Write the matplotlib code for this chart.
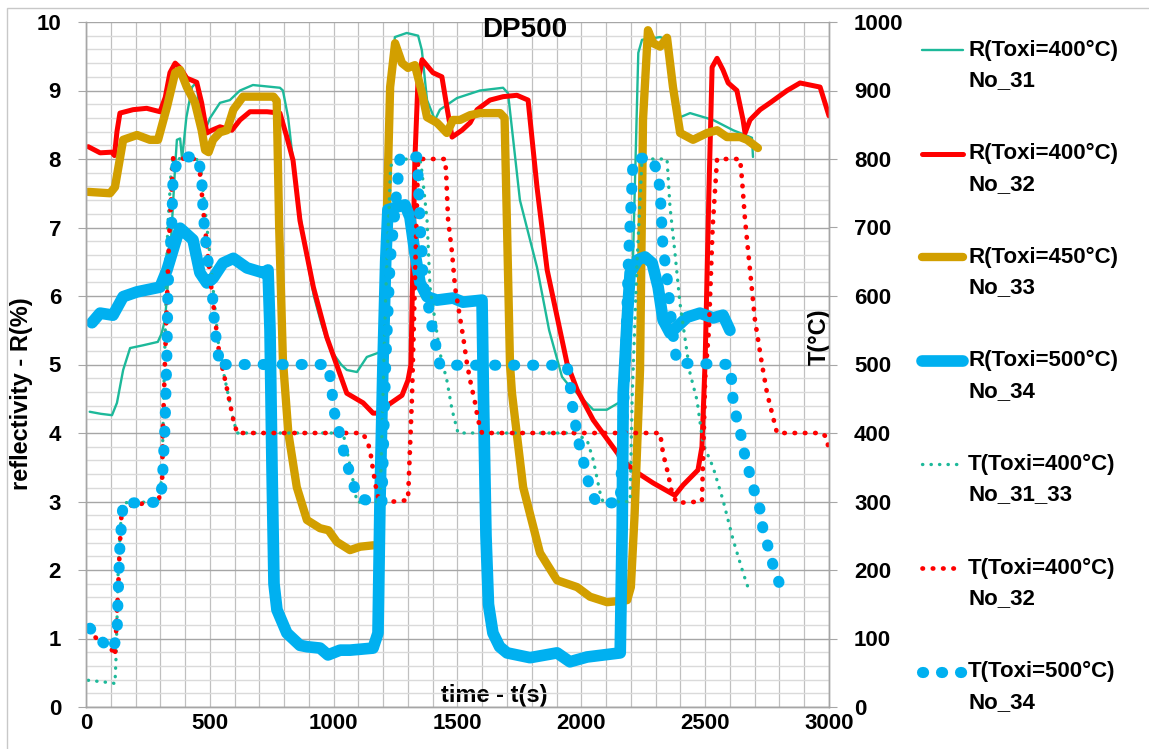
import matplotlib
matplotlib.use("Agg")
import matplotlib.pyplot as plt
from matplotlib.lines import Line2D
from matplotlib.patches import Rectangle
from matplotlib.ticker import MultipleLocator

plt.rcParams['font.family'] = ['Liberation Sans', 'DejaVu Sans']
plt.rcParams['font.weight'] = 'bold'

# reflectivity R(%) vs time t(s), left axis
t_r31 = [15, 60, 105, 125, 150, 178, 230, 290, 305, 319, 340, 360, 367, 380, 388, 405, 428, 447,
         460, 481, 501, 541, 581, 622, 674, 783, 795, 816, 835, 860, 890, 920, 950, 972, 1000,
         1030, 1053, 1094, 1134, 1187, 1200, 1215, 1230, 1247, 1295, 1341, 1356, 1377, 1409,
         1429, 1498, 1591, 1684, 1704, 1752, 1821, 1870, 1922, 1942, 2048, 2103, 2169, 2190,
         2209, 2230, 2245, 2318, 2346, 2370, 2399, 2439, 2532, 2613, 2689, 2693]
r31 = [4.31, 4.28, 4.26, 4.44, 4.92, 5.24, 5.28, 5.33, 5.45, 5.65, 6.6, 7.9, 8.28, 8.3, 8.0, 8.6,
       9.05, 9.12, 8.61, 8.42, 8.6, 8.82, 8.86, 9.0, 9.08, 9.04, 9.0, 8.61, 8.0, 7.3, 6.6, 6.0,
       5.6, 5.36, 5.15, 5.0, 4.92, 4.89, 5.11, 5.18, 5.2, 7.0, 8.8, 9.78, 9.84, 9.8, 9.59, 8.86,
       8.57, 8.72, 8.89, 9.0, 9.04, 8.96, 7.4, 6.42, 5.5, 4.82, 4.73, 4.34, 4.34, 4.48, 4.8, 6.6,
       9.55, 9.74, 9.78, 9.74, 9.05, 8.61, 8.67, 8.57, 8.42, 8.31, 8.03]

t_r32 = [9, 57, 104, 115, 125, 137, 190, 245, 299, 320, 339, 360, 380, 407, 447, 467, 488, 508,
         541, 589, 622, 662, 731, 783, 811, 836, 864, 918, 972, 1053, 1119, 1159, 1187, 1220,
         1276, 1300, 1312, 1328, 1340, 1357, 1401, 1437, 1457, 1478, 1518, 1551, 1579, 1631,
         1684, 1740, 1785, 1821, 1862, 1942, 1983, 2048, 2157, 2209, 2290, 2378, 2411, 2471,
         2487, 2500, 2515, 2528, 2548, 2572, 2593, 2628, 2653, 2661, 2681, 2722, 2762, 2831,
         2883, 2964, 3000]
r32 = [8.18, 8.09, 8.1, 8.05, 8.4, 8.67, 8.72, 8.74, 8.69, 8.9, 9.26, 9.4, 9.33, 9.18, 9.12, 8.82,
       8.38, 8.42, 8.47, 8.42, 8.57, 8.69, 8.69, 8.67, 8.32, 7.98, 7.1, 6.13, 5.4, 4.58, 4.44,
       4.29, 4.29, 4.41, 4.55, 4.77, 5.0, 8.0, 9.1, 9.45, 9.26, 9.2, 8.76, 8.32, 8.42, 8.53,
       8.72, 8.86, 8.91, 8.93, 8.86, 7.59, 6.38, 5.02, 4.63, 4.19, 3.65, 3.46, 3.27, 3.09, 3.24,
       3.46, 3.8, 5.07, 7.5, 9.34, 9.47, 9.3, 9.11, 9.0, 8.57, 8.38, 8.57, 8.72, 8.82, 9.0,
       9.11, 9.05, 8.63]

t_r33 = [9, 97, 117, 150, 206, 258, 291, 327, 360, 380, 407, 440, 467, 481, 495, 513, 541, 569,
         595, 634, 690, 757, 770, 780, 795, 817, 851, 892, 945, 979, 1013, 1066, 1107, 1159,
         1180, 1195, 1207, 1228, 1248, 1276, 1300, 1328, 1357, 1377, 1417, 1457, 1482, 1510,
         1551, 1591, 1672, 1690, 1700, 1712, 1720, 1765, 1833, 1902, 1983, 2035, 2104, 2185,
         2200, 2215, 2237, 2249, 2269, 2290, 2318, 2346, 2370, 2399, 2451, 2508, 2548, 2588,
         2641, 2669, 2713]
r33 = [7.52, 7.5, 7.59, 8.28, 8.35, 8.28, 8.28, 8.76, 9.26, 9.3, 9.05, 8.82, 8.42, 8.13, 8.1,
       8.28, 8.39, 8.42, 8.72, 8.91, 8.91, 8.91, 8.85, 7.0, 5.07, 4.0, 3.21, 2.73, 2.61, 2.58,
       2.41, 2.29, 2.34, 2.36, 2.36, 4.0, 6.13, 9.05, 9.69, 9.4, 9.33, 9.37, 8.96, 8.61, 8.53,
       8.38, 8.57, 8.57, 8.64, 8.67, 8.67, 8.6, 7.0, 5.0, 4.58, 3.21, 2.25, 1.85, 1.75, 1.61,
       1.53, 1.56, 1.75, 2.8, 4.92, 8.57, 9.88, 9.69, 9.64, 9.77, 9.05, 8.38, 8.28, 8.38, 8.42,
       8.32, 8.32, 8.28, 8.16]

t_r34 = [24, 57, 109, 150, 206, 299, 327, 367, 380, 432, 460, 488, 513, 553, 595, 650, 715, 735,
         743, 751, 759, 771, 811, 864, 892, 945, 977, 1026, 1066, 1159, 1179, 1187, 1199, 1210,
         1219, 1256, 1288, 1308, 1328, 1349, 1377, 1417, 1482, 1522, 1599, 1605, 1615, 1625,
         1643, 1670, 1700, 1793, 1902, 1954, 2023, 2157, 2165, 2169, 2185, 2197, 2229, 2257,
         2286, 2310, 2330, 2358, 2386, 2427, 2479, 2532, 2572, 2600]
r34 = [5.61, 5.75, 5.72, 5.99, 6.06, 6.13, 6.38, 6.86, 6.99, 6.82, 6.34, 6.19, 6.26, 6.48, 6.55,
       6.41, 6.34, 6.38, 5.5, 3.5, 1.8, 1.42, 1.08, 0.9, 0.88, 0.86, 0.76, 0.83, 0.83, 0.86,
       1.08, 3.0, 5.0, 6.5, 7.26, 7.3, 7.33, 7.15, 6.63, 6.19, 5.99, 5.94, 5.97, 5.91, 5.94,
       4.5, 2.5, 1.5, 1.08, 0.88, 0.79, 0.72, 0.79, 0.66, 0.73, 0.79, 2.63, 4.58, 5.65, 6.34,
       6.53, 6.57, 6.48, 6.13, 5.65, 5.46, 5.55, 5.69, 5.75, 5.68, 5.72, 5.5]

# temperature T(°C) vs time t(s), right axis
t_t31 = [9, 60, 109, 117, 122, 130, 145, 200, 291, 307, 311, 320, 330, 345, 352, 400, 460, 500,
         541, 553, 573, 595, 610, 800, 1038, 1053, 1078, 1094, 1187, 1195, 1210, 1230, 1256,
         1300, 1349, 1357, 1377, 1389, 1429, 1457, 1478, 1502, 1967, 2023, 2048, 2076, 2088,
         2197, 2205, 2225, 2245, 2346, 2358, 2378, 2398, 2427, 2439, 2467, 2491, 2532, 2572,
         2613, 2653, 2681]
temp31 = [39, 37, 35, 34, 79, 200, 298, 299, 299, 336, 409, 550, 700, 790, 801, 800, 799, 660,
          507, 492, 458, 419, 400, 400, 400, 375, 331, 299, 300, 400, 600, 790, 799, 800, 800,
          780, 711, 613, 517, 477, 434, 400, 400, 390, 361, 312, 299, 300, 450, 650, 800, 800,
          730, 663, 590, 517, 487, 448, 385, 350, 302, 244, 196, 166]

t_t32 = [9, 57, 105, 117, 129, 137, 145, 246, 291, 307, 311, 319, 335, 352, 455, 475, 500, 520,
         541, 553, 573, 595, 610, 1115, 1134, 1147, 1159, 1175, 1187, 1300, 1316, 1330, 1341,
         1450, 1454, 1462, 1478, 1490, 1523, 1538, 1551, 1571, 1583, 1599, 2318, 2330, 2350,
         2366, 2386, 2487, 2500, 2515, 2530, 2548, 2641, 2649, 2661, 2681, 2701, 2722, 2730,
         2750, 2770, 2790, 2972, 2992, 3000]
temp32 = [112, 95, 83, 75, 166, 239, 292, 298, 300, 321, 409, 507, 680, 801, 800, 720, 630, 570,
          507, 492, 458, 419, 400, 400, 390, 375, 346, 312, 298, 302, 450, 650, 800, 800, 780,
          711, 663, 613, 540, 502, 477, 444, 419, 400, 400, 370, 341, 312, 298, 300, 480, 550,
          700, 800, 800, 769, 711, 638, 565, 517, 499, 458, 429, 400, 400, 393, 370]

t_t34 = [16, 57, 105, 125, 129, 137, 150, 210, 291, 307, 319, 327, 331, 347, 352, 380, 452, 467,
         473, 488, 508, 521, 541, 549, 977, 993, 997, 1018, 1034, 1053, 1074, 1098, 1179, 1195,
         1210, 1228, 1268, 1336, 1341, 1349, 1357, 1361, 1389, 1401, 1417, 1429, 1942, 1954,
         1962, 1975, 1987, 2007, 2023, 2044, 2064, 2157, 2177, 2190, 2209, 2278, 2306, 2318,
         2326, 2330, 2342, 2350, 2358, 2366, 2386, 2600, 2608, 2613, 2629, 2649, 2661, 2681,
         2701, 2722, 2734, 2754, 2774, 2798]
temp34 = [115, 98, 83, 101, 156, 237, 298, 298, 299, 321, 409, 521, 613, 711, 780, 803, 803, 774,
          721, 663, 613, 550, 496, 500, 500, 467, 438, 409, 382, 356, 331, 305, 298, 298, 500,
          650, 803, 803, 774, 701, 663, 619, 575, 546, 521, 499, 499, 473, 444, 416, 390, 361,
          336, 309, 298, 298, 500, 650, 799, 803, 784, 755, 696, 667, 641, 613, 584, 555, 502,
          500, 473, 445, 419, 390, 365, 339, 312, 288, 258, 234, 207, 182]

labels = ["R(Toxi=400°C)\nNo_31", "R(Toxi=400°C)\nNo_32", "R(Toxi=450°C)\nNo_33",
          "R(Toxi=500°C)\nNo_34", "T(Toxi=400°C)\nNo_31_33", "T(Toxi=400°C)\nNo_32",
          "T(Toxi=500°C)\nNo_34"]

TEAL = '#1DB99A'
RED = '#FF0000'
GOLD = '#D29F00'
BLUE = '#00B0F0'

styles = [
    dict(color=TEAL, lw=1.7, ls='-'),
    dict(color=RED, lw=3.6, ls='-'),
    dict(color=GOLD, lw=6.0, ls='-'),
    dict(color=BLUE, lw=8.4, ls='-'),
    dict(color=TEAL, lw=2.4, ls=(0, (0.1, 2.45)), dash_capstyle='round'),
    dict(color=RED, lw=3.4, ls=(0, (0.1, 2.08)), dash_capstyle='round'),
    dict(color=BLUE, lw=8.0, ls=(0, (0.1, 1.61)), dash_capstyle='round'),
]

W, H = 1149, 749
fig = plt.figure(figsize=(W / 100, H / 100), dpi=100)


def px(x, y):
    return x / W, 1 - y / H


# outer chart frame
fig.patches.append(Rectangle(px(7, 800), 1.2, (800 - 8) / H, transform=fig.transFigure,
                             fill=False, ec='#C8C8C8', lw=1.0))

x0, y0 = px(86, 707)
x1, y1 = px(829, 22)
ax = fig.add_axes([x0, y0, x1 - x0, y1 - y0])
ax2 = ax.twinx()

ax.set_xlim(0, 3000)
ax.set_ylim(0, 10)
ax2.set_ylim(0, 1000)

ax.xaxis.set_major_locator(MultipleLocator(500))
ax.xaxis.set_minor_locator(MultipleLocator(100))
ax.yaxis.set_major_locator(MultipleLocator(1))
ax.yaxis.set_minor_locator(MultipleLocator(0.2))
ax2.yaxis.set_major_locator(MultipleLocator(100))

ax.set_axisbelow(True)
ax.grid(which='both', axis='x', color='#C0C0C0', lw=0.9)
ax.grid(which='major', axis='y', color='#A6A6A6', lw=1.0)
ax.grid(which='minor', axis='y', color='#DADADA', lw=1.0)

for a in (ax, ax2):
    for s in a.spines.values():
        s.set_color('#A6A6A6')
        s.set_linewidth(1.0)
    a.spines['top'].set_visible(False)

ax.tick_params(axis='x', which='both', length=0, pad=4, labelsize=16)
ax.tick_params(axis='y', which='major', length=6, color='#A6A6A6', pad=12, labelsize=16)
ax.tick_params(axis='y', which='minor', length=0)
ax2.tick_params(axis='y', which='major', length=6, color='#A6A6A6', pad=12, labelsize=16)

series_r = [(t_r31, r31), (t_r32, r32), (t_r33, r33), (t_r34, r34)]
series_t = [(t_t31, temp31), (t_t32, temp32), (t_t34, temp34)]

for (tt, vv), st in zip(series_r, styles[:4]):
    ax.plot(tt, vv, solid_joinstyle='round', solid_capstyle='round', **st)
for (tt, vv), st in zip(series_t, styles[4:]):
    ax2.plot(tt, vv, **st)

ax.set_ylabel("reflectivity - R(%)", fontsize=17, fontweight='bold')
ax.yaxis.set_label_coords(-0.071, 0.458)
ax.set_xlabel("time - t(s)", fontsize=17, fontweight='bold', va='center')
ax.xaxis.set_label_coords(0.550, 0.0175)
ax2.set_ylabel("T(°C)", fontsize=17, fontweight='bold', va='center')
ax2.yaxis.set_label_coords(0.9865, 0.540)
ax.text(0.591, 0.988, "DP500", transform=ax.transAxes, ha='center', va='center',
        fontsize=20, fontweight='bold')

# legend, handle level with the first text line of each entry
handle_len = [41, 41, 41, 41, 40, 33, 40]
for i, (lab, st) in enumerate(zip(labels, styles)):
    yl = 50 + 103.6 * i
    l1, l2 = lab.split("\n")
    hx0, hy = px(922, yl)
    hx1, _ = px(922 + handle_len[i], yl)
    kw = {k: v for k, v in st.items() if k not in ('lw', 'ls')}
    fig.add_artist(Line2D([hx0, hx1], [hy, hy], transform=fig.transFigure,
                          linewidth=st['lw'], linestyle=st['ls'],
                          solid_capstyle='round', **kw))
    fig.text(*px(968, yl), l1, fontsize=16, fontweight='bold', va='center', ha='left')
    fig.text(*px(968, yl + 30.5), l2, fontsize=16, fontweight='bold', va='center', ha='left')

fig.savefig("out.png", dpi=100)
